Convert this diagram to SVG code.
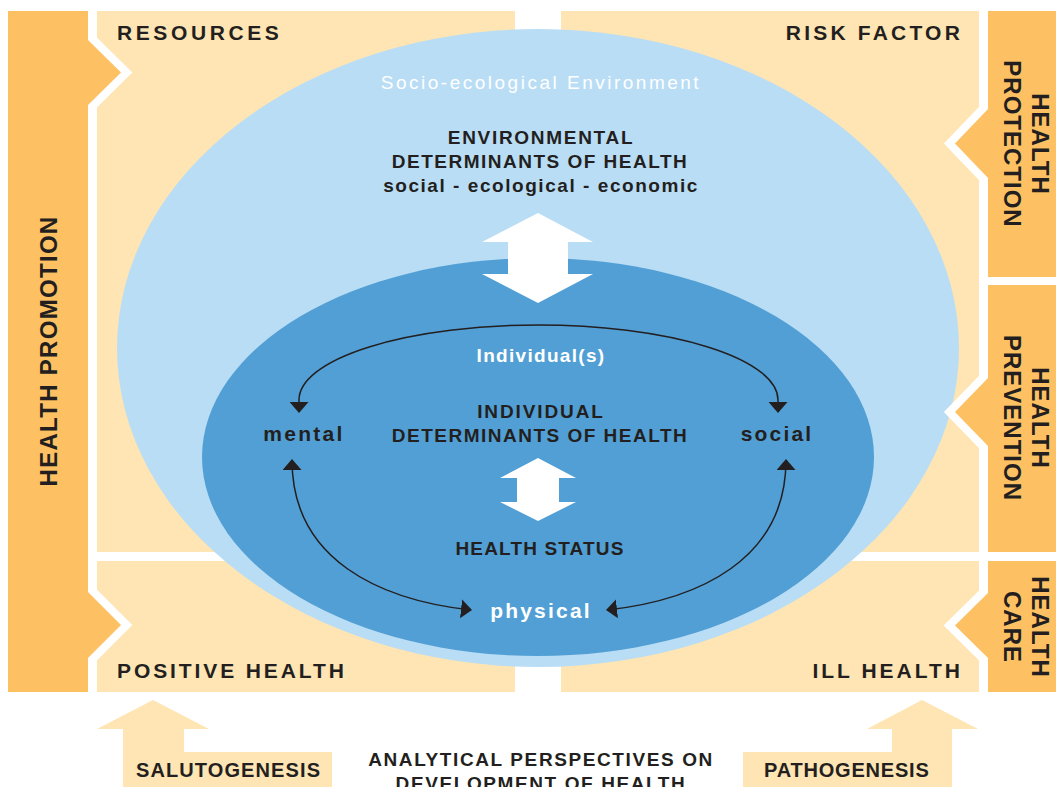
<svg xmlns="http://www.w3.org/2000/svg" width="1056" height="787" viewBox="0 0 1056 787">
<style>
.panel{fill:#fee5b3}
.bar{fill:#fdc062;stroke:#fff;stroke-width:16;paint-order:stroke;stroke-linejoin:miter}
.t{font-family:"Liberation Sans",Arial,sans-serif;font-weight:bold;fill:#231f20}
.w{fill:#fff}
.corner{font-size:21px;letter-spacing:3.2px}
.mid{font-size:19px;letter-spacing:1.6px;text-anchor:middle}
.vert{font-size:24px;letter-spacing:1px;text-anchor:middle}
.conn{fill:none;stroke:#231f20;stroke-width:1.5}
.bigarrow{fill:#fff}
</style>
<defs>
<marker id="ah" markerUnits="userSpaceOnUse" markerWidth="11" markerHeight="19" viewBox="0 0 11 19" refX="10" refY="9.5" orient="auto-start-reverse">
<path d="M0 0 L11 9.5 L0 19 Z" fill="#231f20"/>
</marker>
</defs>
<rect width="1056" height="787" fill="#fff"/>
<g id="panels">
<rect class="panel" x="97" y="11" width="418" height="541"/>
<rect class="panel" x="561" y="11" width="418" height="541"/>
<rect class="panel" x="97" y="561" width="418" height="131"/>
<rect class="panel" x="561" y="561" width="418" height="131"/>
</g>
<g id="environment">
<ellipse cx="538" cy="348" rx="421" ry="319" fill="#b9ddf5"/>
</g>
<g id="individual">
<ellipse cx="538" cy="457" rx="336" ry="199" fill="#519fd4"/>
</g>
<g id="health-promotion">
<path class="bar" d="M8 11 H88 V40 L121 72.5 L88 105 V592 L121 625 L88 658 V692 H8 Z"/>
<text class="t vert" transform="translate(57,351) rotate(-90)" style="letter-spacing:1.3px">HEALTH PROMOTION</text>
</g>
<g id="health-protection">
<path class="bar" d="M988 11 H1056 V277 H988 V178 L955 143.5 L988 109 Z"/>
<text class="t vert" transform="translate(1032,144) rotate(90)"><tspan x="0" y="0">HEALTH</tspan><tspan x="0" y="28">PROTECTION</tspan></text>
</g>
<g id="health-prevention">
<path class="bar" d="M988 285 H1056 V552 H988 V446 L955 412 L988 378 Z"/>
<text class="t vert" transform="translate(1032,418) rotate(90)"><tspan x="0" y="0">HEALTH</tspan><tspan x="0" y="28">PREVENTION</tspan></text>
</g>
<g id="health-care">
<path class="bar" d="M988 561 H1056 V692 H988 V658 L955 625.5 L988 593 Z"/>
<text class="t vert" transform="translate(1032,627) rotate(90)"><tspan x="0" y="0">HEALTH</tspan><tspan x="0" y="28">CARE</tspan></text>
</g>
<g id="corner-labels">
<text class="t corner" x="117" y="40" style="letter-spacing:3.6px">RESOURCES</text>
<text class="t corner" x="963" y="40" text-anchor="end">RISK FACTOR</text>
<text class="t corner" x="117" y="678" style="letter-spacing:2.9px">POSITIVE HEALTH</text>
<text class="t corner" x="963" y="678" text-anchor="end" style="letter-spacing:3px">ILL HEALTH</text>
</g>
<g id="env-labels">
<text class="t w mid" x="541" y="89" style="font-weight:normal;font-size:19px;letter-spacing:2.5px">Socio-ecological Environment</text>
<text class="t mid" x="541" y="144" style="letter-spacing:1.7px">ENVIRONMENTAL</text>
<text class="t mid" x="540" y="168" style="letter-spacing:1.5px">DETERMINANTS OF HEALTH</text>
<text class="t mid" x="541" y="192" style="letter-spacing:1.55px">social - ecological - economic</text>
</g>
<g id="big-arrow">
<polygon class="bigarrow" points="538,213 593,242 568,242 568,274 593,274 538,303 482,274 508,274 508,242 482,242"/>
</g>
<g id="individual-labels">
<text class="t w mid" x="541" y="362" style="letter-spacing:1.3px">Individual(s)</text>
<text class="t mid" x="541" y="418" style="letter-spacing:1.9px">INDIVIDUAL</text>
<text class="t mid" x="540" y="442" style="letter-spacing:1.5px">DETERMINANTS OF HEALTH</text>
<text class="t mid" x="540" y="555" style="letter-spacing:1.15px">HEALTH STATUS</text>
</g>
<g id="small-arrow">
<polygon class="bigarrow" points="538,458 576,478 559,478 559,502 576,502 538,521 500,502 517,502 517,478 500,478"/>
</g>
<g id="mental"><text class="t mid" x="304" y="441" style="font-size:21px;letter-spacing:2.3px">mental</text></g>
<g id="social"><text class="t mid" x="777" y="441" style="font-size:21px;letter-spacing:2.2px">social</text></g>
<g id="physical"><text class="t w mid" x="541" y="618" style="font-size:21px;letter-spacing:2.2px">physical</text></g>
<g id="connectors">
<path class="conn" d="M299 412 L299 400 A239.5 75 0 0 1 778 400 L778 412" marker-start="url(#ah)" marker-end="url(#ah)"/>
<path class="conn" d="M292 460 C292 560 380 600 471 610" marker-start="url(#ah)" marker-end="url(#ah)"/>
<path class="conn" d="M786 460 C786 560 698 600 607 610" marker-start="url(#ah)" marker-end="url(#ah)"/>
</g>
<g id="salutogenesis">
<polygon class="panel" points="153,700 209,729 184,729 184,752 332,752 332,787 123,787 123,729 97,729"/>
<text class="t" x="136" y="777" style="font-size:20px;letter-spacing:1.1px">SALUTOGENESIS</text>
</g>
<g id="pathogenesis">
<polygon class="panel" points="922,700 978,729 952,729 952,787 743,787 743,752 892,752 892,729 867,729"/>
<text class="t" x="764" y="777" style="font-size:20px;letter-spacing:0.8px">PATHOGENESIS</text>
</g>
<g id="perspectives">
<text class="t mid" x="541" y="766">ANALYTICAL PERSPECTIVES ON</text>
<text class="t mid" x="541" y="790">DEVELOPMENT OF HEALTH</text>
</g>
</svg>
